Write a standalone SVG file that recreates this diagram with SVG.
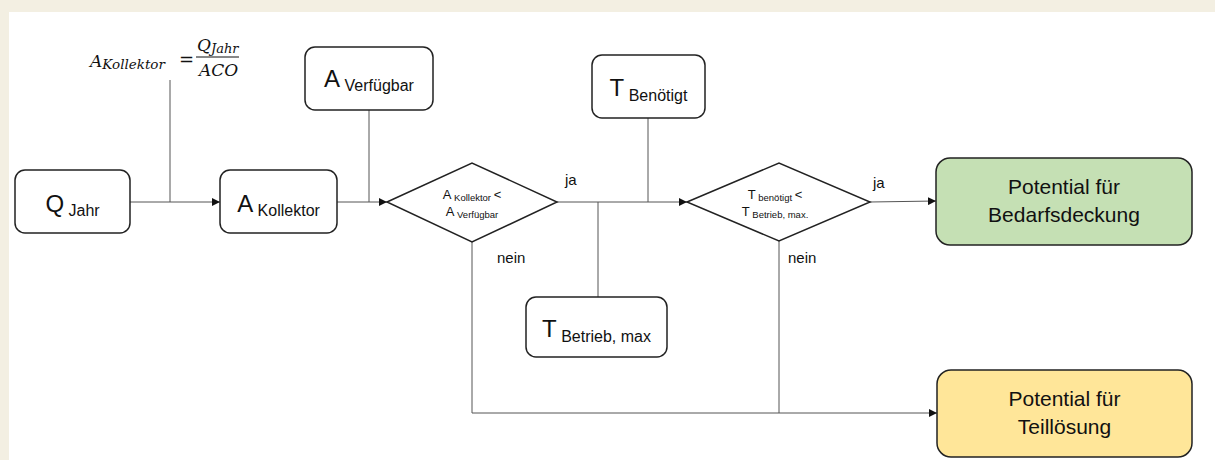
<svg xmlns="http://www.w3.org/2000/svg" width="1215" height="460" viewBox="0 0 1215 460">
  <defs>
    <marker id="arrow" viewBox="0 0 10 10" refX="10" refY="5" markerWidth="8" markerHeight="8" markerUnits="userSpaceOnUse" orient="auto">
      <path d="M0,0 L10,5 L0,10 z" fill="#111"/>
    </marker>
    <style>
      .box { fill: #ffffff; stroke: #222; stroke-width: 1.5; }
      .dia { fill: #ffffff; stroke: #222; stroke-width: 1.5; }
      .line { fill: none; stroke: #555; stroke-width: 1; }
      .lbl { font-family: "Liberation Sans", Arial, sans-serif; fill: #111; }
      .main { font-size: 24px; }
      .sub { font-size: 16px; }
      .dmain { font-size: 13px; }
      .dsub { font-size: 9.5px; }
      .big { font-size: 21px; text-anchor: middle; }
      .edge { font-size: 15px; }
      .math { font-family: "DejaVu Serif", "Liberation Serif", serif; font-style: italic; fill: #111; }
    </style>
  </defs>

  <!-- page background and white panel -->
  <rect x="0" y="0" width="1215" height="460" fill="#f3efe2"/>
  <rect x="9" y="12" width="1206" height="448" fill="#ffffff"/>

  <!-- connectors -->
  <g id="connectors">
    <line class="line" x1="130" y1="202" x2="220" y2="202" marker-end="url(#arrow)"/>
    <line class="line" x1="170" y1="80" x2="170" y2="202"/>
    <line class="line" x1="337" y1="202" x2="387" y2="202" marker-end="url(#arrow)"/>
    <line class="line" x1="369" y1="110" x2="369" y2="202"/>
    <line class="line" x1="557" y1="202" x2="687" y2="202" marker-end="url(#arrow)"/>
    <line class="line" x1="648" y1="118" x2="648" y2="202"/>
    <line class="line" x1="598" y1="202" x2="598" y2="297"/>
    <line class="line" x1="870" y1="202" x2="936" y2="201" marker-end="url(#arrow)"/>
    <polyline class="line" points="472,242 472,413 937,413" marker-end="url(#arrow)"/>
    <line class="line" x1="779" y1="241" x2="779" y2="413" stroke="#999"/>
    <text class="lbl edge" x="565" y="185">ja</text>
    <text class="lbl edge" x="497" y="263">nein</text>
    <text class="lbl edge" x="873" y="188">ja</text>
    <text class="lbl edge" x="788" y="263">nein</text>
  </g>

  <!-- formula: A_Kollektor = Q_Jahr / ACO -->
  <g id="formula">
    <text class="math" x="90" y="67" font-size="17">A<tspan font-size="13.5" dy="2">Kollektor</tspan></text>
    <text class="math" x="179" y="66" font-size="18" font-style="normal">=</text>
    <text class="math" x="197" y="51" font-size="17">Q<tspan font-size="13" dy="2">Jahr</tspan></text>
    <line x1="196" y1="57" x2="239" y2="57" stroke="#111" stroke-width="1"/>
    <text class="math" x="199" y="76" font-size="17">ACO</text>
  </g>

  <g id="q-jahr">
    <rect class="box" x="15" y="170" width="115" height="63" rx="10"/>
    <text class="lbl main" x="72.5" y="212" text-anchor="middle">Q<tspan class="sub" dy="4"> Jahr</tspan></text>
  </g>

  <g id="a-kollektor">
    <rect class="box" x="220" y="170" width="117" height="63" rx="10"/>
    <text class="lbl main" x="278.5" y="212" text-anchor="middle">A<tspan class="sub" dy="4"> Kollektor</tspan></text>
  </g>

  <g id="a-verfuegbar">
    <rect class="box" x="305" y="47" width="128" height="63" rx="10"/>
    <text class="lbl main" x="369" y="87" text-anchor="middle">A<tspan class="sub" dy="4"> Verfügbar</tspan></text>
  </g>

  <g id="t-benoetigt">
    <rect class="box" x="592" y="55" width="113" height="63" rx="10"/>
    <text class="lbl main" x="648.5" y="96" text-anchor="middle">T<tspan class="sub" dy="5"> Benötigt</tspan></text>
  </g>

  <g id="t-betrieb-max">
    <rect class="box" x="526" y="297" width="141" height="60" rx="10"/>
    <text class="lbl main" x="596.5" y="337" text-anchor="middle">T<tspan class="sub" dy="5"> Betrieb, max</tspan></text>
  </g>

  <g id="check-area">
    <polygon class="dia" points="387,202 472,163 557,202 472,242"/>
    <text class="lbl dmain" x="472" y="199" text-anchor="middle">A<tspan class="dsub" dy="2"> Kollektor </tspan><tspan dy="-2">&lt;</tspan></text>
    <text class="lbl dmain" x="472" y="216" text-anchor="middle">A<tspan class="dsub" dy="2"> Verfügbar</tspan></text>
  </g>

  <g id="check-temperature">
    <polygon class="dia" points="687,202 779,163 870,202 779,241"/>
    <text class="lbl dmain" x="775" y="199" text-anchor="middle">T<tspan class="dsub" dy="2"> benötigt </tspan><tspan dy="-2">&lt;</tspan></text>
    <text class="lbl dmain" x="775" y="216" text-anchor="middle">T<tspan class="dsub" dy="2"> Betrieb, max.</tspan></text>
  </g>

  <g id="bedarfsdeckung">
    <rect class="box" x="936" y="158" width="256" height="87" rx="14" style="fill:#c5e0b4"/>
    <text class="lbl big" x="1064" y="194">Potential für</text>
    <text class="lbl big" x="1064" y="222">Bedarfsdeckung</text>
  </g>

  <g id="teilloesung">
    <rect class="box" x="937" y="370" width="255" height="87" rx="14" style="fill:#ffe699"/>
    <text class="lbl big" x="1064.5" y="406">Potential für</text>
    <text class="lbl big" x="1064.5" y="434">Teillösung</text>
  </g>
</svg>
